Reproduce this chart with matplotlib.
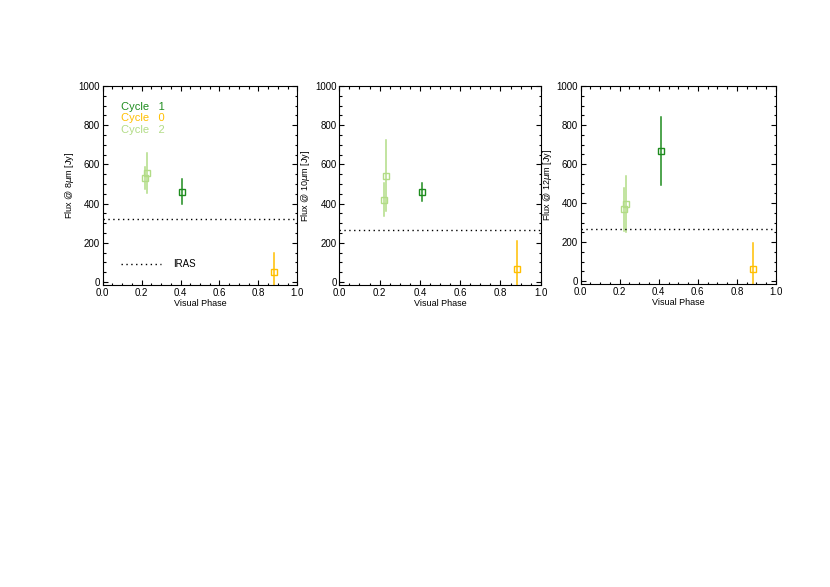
import matplotlib.pyplot as plt
from matplotlib.ticker import MultipleLocator

plt.rcParams['font.family'] = ['Liberation Sans', 'DejaVu Sans']

# flux measurements per band: (phase, flux, err_low, err_high)
bands = ["8", "10", "12"]
iras = [322, 268, 266]

cycle1_phase = [0.41]
cycle1_flux = {"8": [460], "10": [460], "12": [668]}
cycle1_lo = {"8": [396], "10": [414], "12": [495]}
cycle1_hi = {"8": [526], "10": [505], "12": [842]}

cycle0_phase = [0.88]
cycle0_flux = {"8": [50], "10": [65], "12": [62]}
cycle0_lo = {"8": [-15], "10": [-15], "12": [-15]}
cycle0_hi = {"8": [148], "10": [208], "12": [196]}

cycle2_phase = [0.22, 0.23]
cycle2_flux = {"8": [533, 557], "10": [420, 542], "12": [368, 396]}
cycle2_lo = {"8": [477, 452], "10": [335, 362], "12": [257, 253]}
cycle2_hi = {"8": [586, 657], "10": [505, 722], "12": [477, 538]}

c_dark = '#1e8c1e'
c_orange = '#ffbf00'
c_light = '#b2dc86'

fig = plt.figure(figsize=(8.3, 5.87), dpi=100)
positions = [[0.1237, 0.5145, 0.2345, 0.339],
             [0.4088, 0.5145, 0.2427, 0.339],
             [0.6996, 0.5162, 0.2353, 0.3373]]


def draw(ax, phase, flux, lo, hi, color):
    for p, f, l, h in zip(phase, flux, lo, hi):
        ax.plot([p, p], [l, h], color=color, lw=1.1)
        ax.plot(p, f, marker='s', ms=5, mfc='none', mec=color, mew=1.0)


for i, b in enumerate(bands):
    ax = fig.add_axes(positions[i])
    draw(ax, cycle2_phase, cycle2_flux[b], cycle2_lo[b], cycle2_hi[b], c_light)
    draw(ax, cycle1_phase, cycle1_flux[b], cycle1_lo[b], cycle1_hi[b], c_dark)
    draw(ax, cycle0_phase, cycle0_flux[b], cycle0_lo[b], cycle0_hi[b], c_orange)
    ax.axhline(iras[i], color='black', ls=(0, (1, 2.5)), lw=1.0)

    ax.set_xlim(0, 1)
    ax.set_ylim(-15, 1000)
    ax.xaxis.set_major_locator(MultipleLocator(0.2))
    ax.xaxis.set_minor_locator(MultipleLocator(0.05))
    ax.yaxis.set_major_locator(MultipleLocator(200))
    ax.yaxis.set_minor_locator(MultipleLocator(50))
    ax.tick_params(which='both', direction='in', top=True, right=True,
                   labelsize=7, width=0.8, pad=2)
    ax.tick_params(which='major', length=3.5)
    ax.tick_params(which='minor', length=1.8)
    ax.xaxis.set_major_formatter(plt.FuncFormatter(lambda v, pos: f"{v:.1f}"))
    for s in ax.spines.values():
        s.set_linewidth(0.8)
    ax.set_xlabel("Visual Phase", fontsize=6.5, labelpad=1)
    ax.set_ylabel("Flux @ " + b + r"$\mu$m [Jy]", fontsize=6.5, labelpad=2)

    if i == 0:
        ax.text(0.094, 892, "Cycle   1", color=c_dark, fontsize=8, va='center')
        ax.text(0.094, 835, "Cycle   0", color=c_orange, fontsize=8, va='center')
        ax.text(0.094, 778, "Cycle   2", color=c_light, fontsize=8, va='center')
        ax.plot([0.094, 0.30], [90, 90], color='black', ls=(0, (1, 2.5)), lw=1.0)
        ax.text(0.36, 90, "IRAS", fontsize=7, va='center')

fig.savefig("out.png", dpi=100)
